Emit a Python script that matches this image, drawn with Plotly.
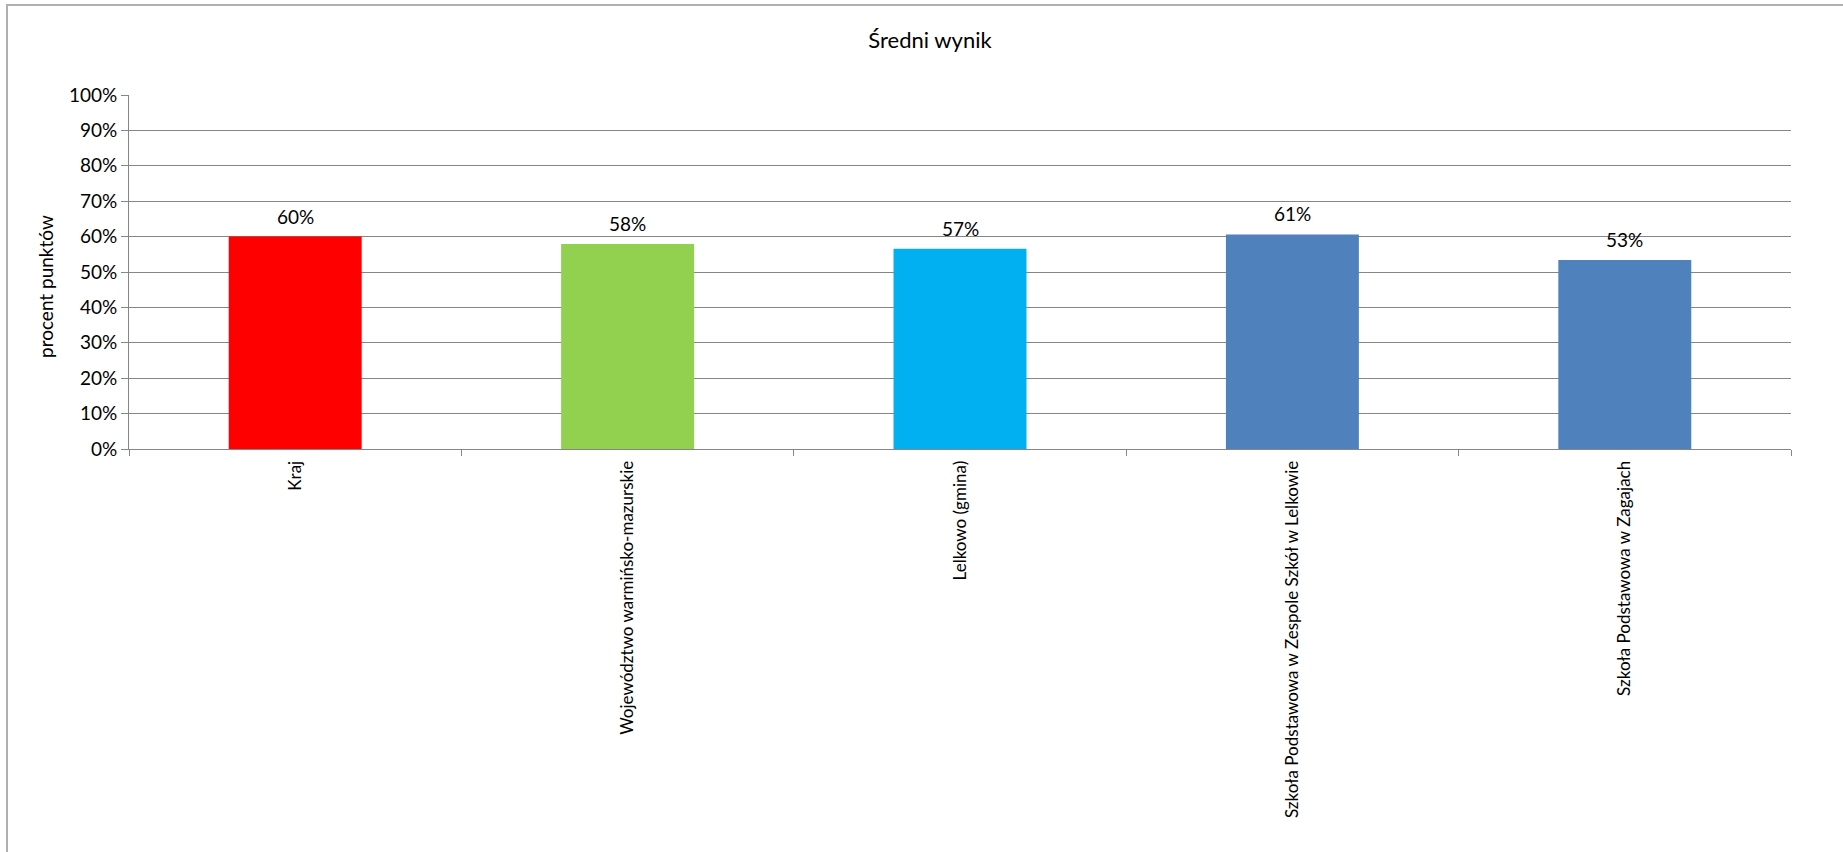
import plotly.graph_objects as go

categories = [
    "Kraj",
    "Województwo warmińsko-mazurskie",
    "Lelkowo (gmina)",
    "Szkoła Podstawowa w Zespole Szkół w Lelkowie",
    "Szkoła Podstawowa w Zagajach",
]
values = [0.600, 0.579, 0.566, 0.606, 0.534]
bar_colors = ["#FF0000", "#92D050", "#00B0F0", "#4F81BD", "#4F81BD"]

W, H = 1843, 852
L, R, T, B = 129, 52, 95, 403
pw, ph = W - L - R, H - T - B

FONT = "Lato"
GRID = "#868686"

fig = go.Figure()
fig.add_trace(go.Bar(
    x=categories, y=values, marker=dict(color=bar_colors, line=dict(width=0)),
    width=0.4, showlegend=False, hoverinfo="skip",
))

annotations = []
for c, v in zip(categories, values):
    annotations.append(dict(
        x=c, y=v, xref="x", yref="y", text=f"{v:.0%}", showarrow=False,
        yanchor="bottom", yshift=7, font=dict(family=FONT, size=19, color="#000000"),
    ))

annotations.append(dict(
    x=(45 - L) / pw, y=(T + ph - 287) / ph, xref="paper", yref="paper",
    text="procent punktów", textangle=-90, showarrow=False,
    xanchor="center", yanchor="middle",
    font=dict(family=FONT, size=19, color="#000000"),
))

fig.update_layout(
    width=W, height=H,
    margin=dict(l=L, r=R, t=T, b=B, pad=0),
    paper_bgcolor="white", plot_bgcolor="white",
    title=dict(text="Średni wynik", x=(930 - L) / pw, xref="paper",
               y=1 - 40 / H, yref="container", xanchor="center", yanchor="middle",
               font=dict(family=FONT, size=22, color="#000000")),
    annotations=annotations,
    bargap=0.6,
    shapes=[dict(
        type="rect", xref="paper", yref="paper",
        x0=(7 - L) / pw, x1=(W + 10 - L) / pw,
        y0=(T + ph - (H + 10)) / ph, y1=(T + ph - 5) / ph,
        line=dict(color="#B0B0B0", width=2), fillcolor="rgba(0,0,0,0)", layer="below",
    )],
)

fig.update_yaxes(
    range=[0, 1], dtick=0.1, tickformat=".0%",
    showgrid=True, gridcolor=GRID, gridwidth=1,
    showline=True, linecolor=GRID, linewidth=1,
    ticks="outside", ticklen=7, tickcolor=GRID,
    tickfont=dict(family=FONT, size=19, color="#000000"),
    zeroline=False,
)
fig.update_xaxes(
    showline=True, linecolor=GRID, linewidth=1,
    ticks="outside", ticklen=6, tickcolor=GRID, tickson="boundaries",
    tickangle=-90, ticklabelstandoff=4,
    tickfont=dict(family=FONT, size=17, color="#000000"),
    showgrid=False,
)

fig.write_html(
    "out.html",
    config={"displayModeBar": False},
    post_script="document.body.style.margin='0';document.body.style.padding='0';",
)
